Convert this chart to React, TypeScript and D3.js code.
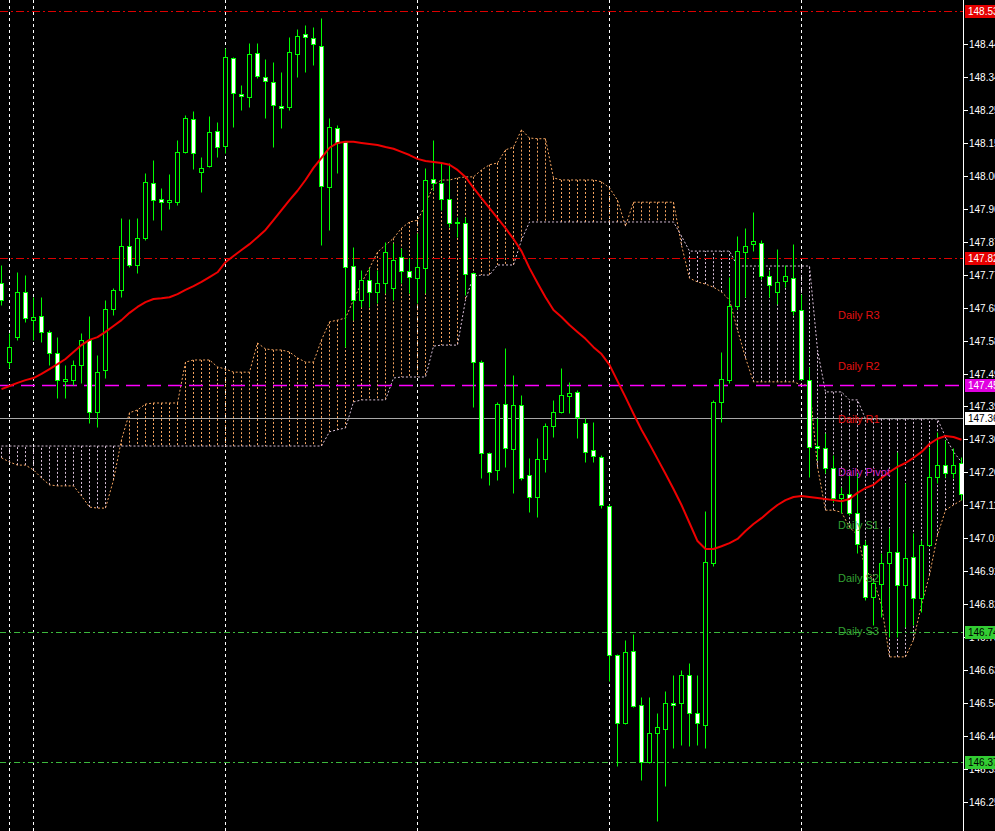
import React from 'react';
import * as d3 from 'd3';

// ---------- DATA (prices) ----------
const opens = [147.751,147.523,147.595,147.725,147.644,147.656,147.610,147.549,147.468,147.471,147.515,147.587,147.379,147.500,147.676,147.731,147.857,147.803,147.880,148.040,147.994,147.984,147.984,148.129,148.224,148.071,148.089,148.190,148.146,148.400,148.296,148.287,148.414,148.345,148.331,148.262,148.259,148.411,148.469,148.457,148.434,148.028,148.198,148.158,147.800,147.702,147.759,147.725,147.751,147.736,147.826,147.785,147.765,147.794,148.051,148.040,147.994,147.927,147.924,147.780,147.523,147.261,147.212,147.402,147.273,147.400,147.198,147.134,147.244,147.339,147.379,147.425,147.437,147.348,147.270,147.250,147.108,146.678,146.483,146.690,146.535,146.370,146.454,146.465,146.540,146.540,146.621,146.512,146.477,146.943,147.408,147.471,147.685,147.840,147.863,147.866,147.771,147.725,147.756,147.765,147.673,147.471,147.281,147.276,147.218,147.131,147.143,147.088,146.995,146.845,146.883,146.943,146.975,146.880,146.961,146.842,146.995,147.192,147.227,147.204,147.232];
const highs = [147.803,147.607,147.782,147.774,147.710,147.710,147.616,147.595,147.515,147.529,147.607,147.656,147.543,147.702,147.736,147.938,147.935,147.938,148.069,148.106,148.025,148.066,148.164,148.236,148.247,148.115,148.233,148.216,148.429,148.403,148.322,148.443,148.443,148.397,148.388,148.359,148.460,148.483,148.495,148.489,148.515,148.227,148.207,148.161,147.854,147.788,147.794,147.788,147.869,147.866,147.852,147.823,147.895,148.083,148.164,148.100,148.097,147.941,147.941,147.782,147.529,147.263,147.408,147.564,147.486,147.428,147.247,147.304,147.348,147.414,147.506,147.466,147.443,147.362,147.351,147.255,147.113,146.680,146.722,146.739,146.557,146.557,146.512,146.575,146.621,146.635,146.655,146.621,147.093,147.414,147.552,147.768,147.886,147.909,147.955,147.875,147.788,147.849,147.803,147.863,147.719,147.509,147.362,147.319,147.255,147.163,147.198,147.204,147.010,146.894,146.972,147.044,147.264,147.175,147.030,147.010,147.278,147.322,147.299,147.276,147.250];
const lows = [147.688,147.506,147.587,147.639,147.587,147.581,147.515,147.419,147.419,147.457,147.463,147.348,147.336,147.477,147.659,147.710,147.797,147.780,147.875,147.932,147.904,147.964,147.976,148.126,148.080,148.014,148.086,148.115,148.126,148.201,148.250,148.259,148.342,148.227,148.143,148.198,148.250,148.345,148.359,148.380,147.860,147.904,148.069,147.566,147.644,147.682,147.682,147.693,147.722,147.702,147.751,147.722,147.693,147.722,148.020,147.961,147.912,147.883,147.716,147.394,147.189,147.169,147.183,147.221,147.146,147.183,147.090,147.076,147.206,147.307,147.377,147.377,147.304,147.235,147.235,147.102,146.603,146.359,146.480,146.529,146.318,146.367,146.200,146.301,146.411,146.419,146.416,146.419,146.411,146.935,147.351,147.463,147.676,147.710,147.843,147.762,147.710,147.690,147.739,147.659,147.471,147.192,147.241,147.204,147.119,147.088,147.082,146.972,146.837,146.765,146.788,146.730,146.730,146.759,146.765,146.802,146.992,147.175,147.192,147.189,147.125];
const closes = [147.702,147.566,147.725,147.650,147.653,147.610,147.549,147.471,147.474,147.515,147.587,147.379,147.494,147.676,147.731,147.857,147.803,147.880,148.043,147.990,147.984,147.990,148.129,148.227,148.126,148.083,148.187,148.143,148.403,148.299,148.290,148.411,148.348,148.333,148.265,148.256,148.417,148.463,148.460,148.440,148.031,148.201,148.155,147.797,147.702,147.759,147.725,147.751,147.840,147.817,147.785,147.768,147.797,148.048,148.040,147.994,147.924,147.924,147.777,147.523,147.261,147.206,147.402,147.276,147.400,147.189,147.134,147.244,147.339,147.379,147.428,147.434,147.365,147.264,147.253,147.111,146.678,146.483,146.687,146.532,146.370,146.454,146.471,146.540,146.535,146.621,146.512,146.483,146.946,147.408,147.474,147.685,147.843,147.857,147.872,147.771,147.745,147.754,147.771,147.670,147.474,147.278,147.276,147.218,147.131,147.143,147.088,146.998,146.845,146.886,146.943,146.975,146.880,146.958,146.842,146.995,147.192,147.227,147.204,147.227,147.143];

// Ichimoku Senkou spans (as drawn)
const spanA = [147.247,147.235,147.226,147.226,147.212,147.189,147.169,147.166,147.166,147.166,147.137,147.105,147.102,147.102,147.183,147.299,147.377,147.385,147.402,147.405,147.405,147.405,147.405,147.523,147.529,147.529,147.529,147.509,147.503,147.494,147.494,147.494,147.578,147.561,147.558,147.558,147.552,147.535,147.523,147.523,147.587,147.639,147.644,147.650,147.702,147.751,147.794,147.840,147.860,147.880,147.909,147.927,147.932,147.976,148.034,148.048,148.048,148.054,148.057,148.057,148.077,148.092,148.097,148.135,148.143,148.193,148.169,148.167,148.167,148.054,148.048,148.048,148.048,148.048,148.048,148.043,148.025,147.990,147.915,147.984,147.984,147.984,147.984,147.984,147.984,147.860,147.765,147.754,147.748,147.739,147.725,147.702,147.616,147.535,147.466,147.466,147.466,147.466,147.466,147.466,147.457,147.457,147.221,147.096,147.096,147.090,147.047,147.024,146.924,146.894,146.823,146.673,146.673,146.673,146.722,146.823,146.909,147.024,147.096,147.111,147.125];
const spanB = [147.281,147.281,147.281,147.281,147.281,147.281,147.281,147.281,147.281,147.281,147.281,147.281,147.281,147.281,147.281,147.281,147.281,147.281,147.281,147.281,147.281,147.281,147.281,147.281,147.281,147.281,147.281,147.281,147.281,147.281,147.281,147.281,147.281,147.281,147.281,147.281,147.281,147.281,147.281,147.281,147.281,147.322,147.328,147.333,147.408,147.414,147.414,147.414,147.414,147.477,147.480,147.480,147.480,147.480,147.569,147.572,147.572,147.572,147.702,147.771,147.774,147.774,147.803,147.803,147.803,147.875,147.927,147.927,147.927,147.927,147.927,147.927,147.927,147.927,147.927,147.927,147.927,147.927,147.927,147.927,147.927,147.927,147.927,147.927,147.927,147.886,147.843,147.843,147.843,147.843,147.843,147.843,147.800,147.800,147.800,147.800,147.800,147.800,147.800,147.800,147.800,147.800,147.558,147.437,147.437,147.437,147.414,147.414,147.359,147.359,147.359,147.359,147.359,147.359,147.359,147.359,147.359,147.359,147.307,147.264,147.235];

// Moving average
const maValues = [147.445,147.454,147.463,147.471,147.477,147.489,147.503,147.517,147.532,147.552,147.572,147.587,147.595,147.610,147.627,147.644,147.665,147.682,147.696,147.705,147.707,147.710,147.719,147.731,147.742,147.754,147.768,147.782,147.811,147.829,147.846,147.863,147.883,147.904,147.932,147.961,147.990,148.017,148.048,148.083,148.112,148.141,148.155,148.158,148.158,148.155,148.152,148.149,148.143,148.138,148.129,148.120,148.109,148.103,148.100,148.097,148.092,148.077,148.057,148.025,147.996,147.967,147.938,147.909,147.878,147.843,147.794,147.751,147.710,147.673,147.653,147.630,147.610,147.590,147.566,147.546,147.515,147.468,147.422,147.374,147.328,147.287,147.244,147.201,147.157,147.111,147.059,147.007,146.984,146.984,146.992,147.001,147.013,147.036,147.056,147.073,147.093,147.111,147.125,147.134,147.137,147.134,147.131,147.128,147.125,147.122,147.128,147.146,147.160,147.169,147.189,147.206,147.221,147.232,147.247,147.264,147.287,147.302,147.310,147.307,147.299];

const gridBars = [1, 4, 28, 52, 76, 100];

const tickValues = [148.440,148.345,148.250,148.155,148.060,147.965,147.870,147.775,147.680,147.585,147.490,147.395,147.300,147.205,147.110,147.015,146.920,146.825,146.730,146.635,146.540,146.445,146.350,146.255];
const tickLabels = ["148.440","148.345","148.250","148.155","148.060","147.965","147.870","147.775","147.680","147.585","147.490","147.395","147.300","147.205","147.110","147.015","146.920","146.825","146.730","146.635","146.540","146.445","146.350","146.255"];

const levelPrices = [148.535, 147.823, 147.457, 147.362, 146.745, 146.370];
const levelLabels = ["148.535", "147.823", "147.457", "147.362", "146.745", "146.370"];
const levelKinds = ["red", "red", "magenta", "bid", "green", "green"];

const pivotNames = ["Daily R3", "Daily R2", "Daily R1", "Daily Pivot", "Daily S1", "Daily S2", "Daily S3"];
const pivotPrices = [147.659, 147.512, 147.359, 147.206, 147.053, 146.900, 146.748];
const pivotKinds = ["r", "r", "r", "p", "s", "s", "s"];

// ---------- STYLE ----------
const W = 995;
const H = 831;
const PLOT_R = 963;
const BAR = '#00ff00';
const FONT = "'Liberation Sans', Arial, sans-serif";

const levelStyle: Record<string, { stroke: string; dash: string; box: string; text: string; width: number }> = {
  red: { stroke: '#dd0000', dash: '8,3,2,3', box: '#e60000', text: '#ffffff', width: 1 },
  magenta: { stroke: '#ff00ff', dash: '14,7', box: '#e000e0', text: '#ffffff', width: 1.3 },
  bid: { stroke: '#a8a8a8', dash: '', box: '#ffffff', text: '#000000', width: 1 },
  green: { stroke: '#3cb83c', dash: '6,3,2,3', box: '#33cc33', text: '#000000', width: 1 },
};
const pivotColor: Record<string, string> = { r: '#e01010', p: '#cc22cc', s: '#33a033' };

export default function App() {
  const x = d3.scaleLinear().domain([0, opens.length - 1]).range([1.5, 1.5 + 8 * (opens.length - 1)]);
  const y = d3.scaleLinear().domain([146.171, 148.567]).range([H, 0]);
  const py = (v: number) => Math.round(y(v)) + 0.5;

  const maLine = d3.line<number>().x((_, i) => x(i)).y((d) => y(d))(maValues) || '';
  const aLine = d3.line<number>().x((_, i) => x(i)).y((d) => y(d))(spanA) || '';
  const bLine = d3.line<number>().x((_, i) => x(i)).y((d) => y(d))(spanB) || '';

  return (
    <svg width={W} height={H} style={{ position: 'absolute', left: 0, top: 0, display: 'block', background: '#000' }}>
      <rect x={0} y={0} width={W} height={H} fill="#000" />

      {/* vertical grid */}
      {gridBars.map((b) => (
        <line key={'g' + b} x1={x(b)} x2={x(b)} y1={0} y2={H} stroke="#ffffff" strokeWidth={1} strokeDasharray="3,3" />
      ))}

      {/* cloud hatch */}
      {spanA.map((a, i) => (
        <line key={'h' + i} x1={x(i)} x2={x(i)} y1={y(a)} y2={y(spanB[i])}
          stroke={a >= spanB[i] ? '#f4a460' : '#d8bfd8'} strokeWidth={1} strokeDasharray="2,2" />
      ))}
      <path d={aLine} fill="none" stroke="#f4a460" strokeWidth={1} strokeDasharray="2,2" />
      <path d={bLine} fill="none" stroke="#d8bfd8" strokeWidth={1} strokeDasharray="2,2" />

      {/* horizontal levels */}
      {levelPrices.map((p, i) => {
        const s = levelStyle[levelKinds[i]];
        return (
          <line key={'l' + i} x1={0} x2={PLOT_R} y1={py(p)} y2={py(p)} stroke={s.stroke} strokeWidth={s.width}
            strokeDasharray={s.dash || undefined} />
        );
      })}

      {/* candles */}
      {opens.map((o, i) => {
        const c = closes[i];
        const cx = x(i);
        const top = Math.round(y(Math.max(o, c)));
        const bot = Math.round(y(Math.min(o, c)));
        const bull = c > o;
        const h = bot - top;
        return (
          <g key={'c' + i}>
            <line x1={cx} x2={cx} y1={py(highs[i])} y2={py(lows[i])} stroke={BAR} strokeWidth={1} />
            {h >= 1 ? (
              <rect x={cx - 2} y={top + 0.5} width={4} height={h} fill={bull ? '#000' : '#fff'} stroke={BAR} strokeWidth={1} />
            ) : (
              <line x1={cx - 2.5} x2={cx + 2.5} y1={top + 0.5} y2={top + 0.5} stroke={BAR} strokeWidth={1} />
            )}
          </g>
        );
      })}

      {/* moving average */}
      <path d={maLine} fill="none" stroke="#ee0000" strokeWidth={2} strokeLinejoin="round" />

      {/* pivot texts */}
      {pivotNames.map((n, i) => (
        <text key={'p' + i} x={838} y={y(pivotPrices[i]) + 4} fill={pivotColor[pivotKinds[i]]} fontSize={11} fontFamily={FONT}>
          {n}
        </text>
      ))}

      {/* right price axis */}
      <rect x={PLOT_R + 1} y={0} width={W - PLOT_R - 1} height={H} fill="#000" />
      <line x1={PLOT_R + 0.5} x2={PLOT_R + 0.5} y1={0} y2={H} stroke="#ffffff" strokeWidth={1} />
      {tickValues.map((v, i) => (
        <g key={'t' + i}>
          <line x1={PLOT_R + 1} x2={PLOT_R + 5} y1={py(v)} y2={py(v)} stroke="#ffffff" strokeWidth={1} />
          <text x={969} y={py(v) + 3.5} fill="#ffffff" fontSize={10} fontFamily={FONT}>{tickLabels[i]}</text>
        </g>
      ))}
      {levelPrices.map((p, i) => {
        const s = levelStyle[levelKinds[i]];
        const yy = Math.round(y(p));
        return (
          <g key={'lb' + i}>
            <rect x={PLOT_R + 2} y={yy - 6} width={W - PLOT_R - 2} height={13} fill={s.box} />
            <text x={968} y={yy + 4} fill={s.text} fontSize={10} fontFamily={FONT}>{levelLabels[i]}</text>
          </g>
        );
      })}
    </svg>
  );
}
